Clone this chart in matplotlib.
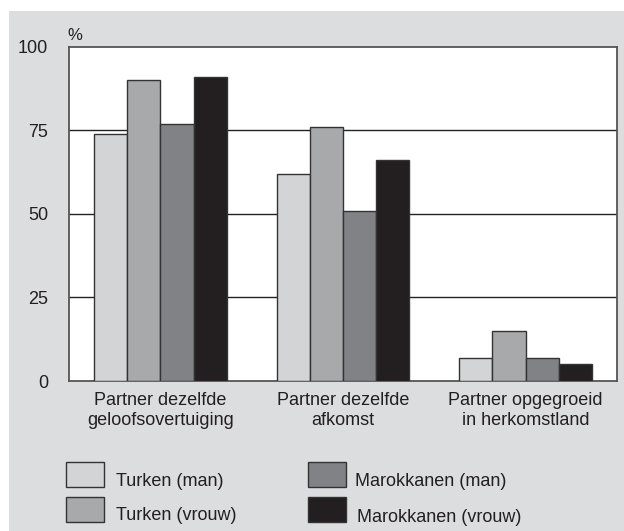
import numpy as np
import matplotlib
matplotlib.use("Agg")
import matplotlib.pyplot as plt
from matplotlib.patches import Rectangle

plt.rcParams['font.family'] = ['Liberation Sans', 'DejaVu Sans']

# data
categories = ["Partner dezelfde\ngeloofsovertuiging",
              "Partner dezelfde\nafkomst",
              "Partner opgegroeid\nin herkomstland"]
series = ["Turken (man)", "Turken (vrouw)", "Marokkanen (man)", "Marokkanen (vrouw)"]
turken_man = [74, 62, 7]
turken_vrouw = [90, 76, 15]
marokkanen_man = [77, 51, 7]
marokkanen_vrouw = [91, 66, 5]
yticks = [0, 25, 50, 75, 100]

values = [turken_man, turken_vrouw, marokkanen_man, marokkanen_vrouw]
colors = ['#d3d4d6', '#a8a9ab', '#818285', '#231f20']
txtcol = '#231f20'
bg = '#dcdddf'

W, H = 624, 531
fig = plt.figure(figsize=(W / 100, H / 100), dpi=100, facecolor='white')

# grey panel behind everything
fig.patches.append(Rectangle((9 / W, 0), 1 - 9 / W, (H - 11) / H,
                             transform=fig.transFigure, facecolor=bg,
                             edgecolor='none', zorder=-10))

ax = fig.add_axes([69 / W, 1 - 381 / H, (617 - 69) / W, (381 - 46.7) / H])
ax.set_facecolor('white')

x = np.arange(len(categories))
bw = 0.182
for i, (vals, c) in enumerate(zip(values, colors)):
    ax.bar(x + (i - 1.5) * bw, vals, width=bw, color=c, edgecolor='#333333',
           linewidth=1.0, zorder=3, label=series[i])

ax.set_xlim(-0.5, 2.5)
ax.set_ylim(0, 100)
ax.set_yticks(yticks)
ax.set_yticklabels([str(v) for v in yticks], fontsize=13, color=txtcol)
ax.set_xticks(x)
ax.set_xticklabels(categories, fontsize=13, color=txtcol, linespacing=1.25)
ax.tick_params(axis='both', length=0)
ax.tick_params(axis='y', pad=15)
ax.tick_params(axis='x', pad=8)

for v in [25, 50, 75]:
    ax.axhline(v, color='#222222', linewidth=1.0, zorder=1)

for s in ax.spines.values():
    s.set_color('#555555')
    s.set_linewidth(1.3)

fig.text(67 / W, 1 - 36 / H, '%', fontsize=12, color=txtcol, va='center', ha='left')

# legend drawn by hand
leg_pos = [(66, 462, 116, 482), (66, 497, 116, 516),
           (308, 462, 355, 482), (308, 497, 357, 518)]
for (px, py, tx, ty), c, lab in zip(leg_pos, colors, series):
    fig.patches.append(Rectangle((px / W, 1 - (py + 25) / H), 38 / W, 25 / H,
                                 transform=fig.transFigure, facecolor=c,
                                 edgecolor='#333333', linewidth=1.0))
    fig.text(tx / W, 1 - ty / H, lab, fontsize=13, color=txtcol,
             va='center', ha='left')

fig.savefig('out.png', dpi=100, facecolor=fig.get_facecolor())
